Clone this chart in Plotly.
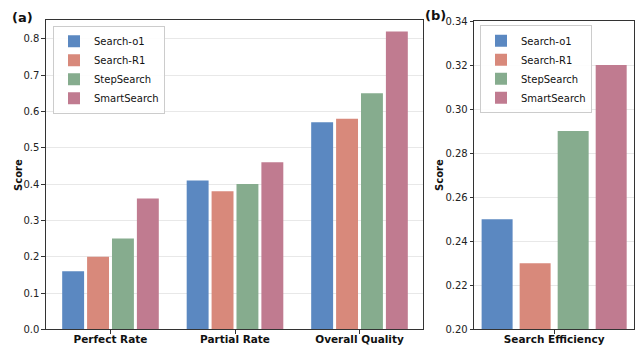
import plotly.graph_objects as go

methods = ["Search-o1", "Search-R1", "StepSearch", "SmartSearch"]
colors = ["#5b88c1", "#d8897b", "#86ac8e", "#c07b90"]

cats_a = ["Perfect Rate", "Partial Rate", "Overall Quality"]
vals_a = {
    "Search-o1": [0.16, 0.41, 0.57],
    "Search-R1": [0.20, 0.38, 0.58],
    "StepSearch": [0.25, 0.40, 0.65],
    "SmartSearch": [0.36, 0.46, 0.82],
}

cats_b = ["Search Efficiency"]
vals_b = {
    "Search-o1": [0.25],
    "Search-R1": [0.23],
    "StepSearch": [0.29],
    "SmartSearch": [0.32],
}

FONT = "DejaVu Sans"
W, H = 644, 350
fig = go.Figure()

slot = 0.2
for i, m in enumerate(methods):
    wa = 0.176
    fig.add_trace(go.Bar(
        x=cats_a, y=vals_a[m], name=m, marker=dict(color=colors[i], line=dict(width=0)),
        width=wa, offset=-0.4 + i * slot + (slot - wa) / 2,
        xaxis="x", yaxis="y", legend="legend",
    ))
for i, m in enumerate(methods):
    wb = 0.163
    fig.add_trace(go.Bar(
        x=cats_b, y=vals_b[m], name=m, marker=dict(color=colors[i], line=dict(width=0)),
        width=wb, offset=-0.4 + i * slot + (slot - wb) / 2,
        xaxis="x2", yaxis="y2", legend="legend2",
    ))

axis_common = dict(
    showline=True, mirror=True, linecolor="#333333", linewidth=1.2,
    ticks="outside", ticklen=3.5, tickcolor="#333333", tickwidth=1,
    tickfont=dict(family=FONT, size=10, color="#222222"),
    automargin=False,
)
xtickfont = dict(family=FONT, size=10.5, color="#111111", weight="bold")

legend_common = dict(
    xanchor="left", yanchor="top",
    bgcolor="rgba(255,255,255,0.9)", bordercolor="#cccccc", borderwidth=1,
    font=dict(family=FONT, size=10, color="#111111"), tracegroupgap=0, itemwidth=30,
)

fig.update_layout(
    width=W, height=H,
    margin=dict(l=0, r=0, t=0, b=0),
    paper_bgcolor="white", plot_bgcolor="white",
    barmode="overlay",
    font=dict(family=FONT, color="#222222"),
    xaxis=dict(domain=[46 / W, 423 / W], anchor="y", type="category",
               range=[-0.518, 2.51], showgrid=False, ticklabelstandoff=-4,
               **{**axis_common, "tickfont": xtickfont}),
    yaxis=dict(domain=[(H - 329.3) / H, (H - 20) / H], anchor="x",
               range=[0, 0.852], dtick=0.1, tickformat=".1f",
               showgrid=True, gridcolor="#e8e8e8", gridwidth=1, zeroline=False,
               **axis_common),
    xaxis2=dict(domain=[474.3 / W, 634 / W], anchor="y2", type="category",
                range=[-0.42, 0.42], showgrid=False, ticklabelstandoff=-4,
                **{**axis_common, "tickfont": xtickfont}),
    yaxis2=dict(domain=[(H - 329.3) / H, (H - 21) / H], anchor="x2",
                range=[0.2, 0.34], dtick=0.02, tickformat=".2f",
                showgrid=True, gridcolor="#e8e8e8", gridwidth=1, zeroline=False,
                **axis_common),
    legend=dict(x=53 / W, y=1 - 25.7 / H, **legend_common),
    legend2=dict(x=480 / W, y=1 - 25.3 / H, **legend_common),
    annotations=[
        dict(text="<b>(a)</b>", x=22 / W, y=1 - 18 / H, xref="paper", yref="paper",
             xanchor="center", yanchor="middle",
             showarrow=False, font=dict(family=FONT, size=13, color="#111111")),
        dict(text="<b>(b)</b>", x=435 / W, y=1 - 16 / H, xref="paper", yref="paper",
             xanchor="center", yanchor="middle",
             showarrow=False, font=dict(family=FONT, size=13, color="#111111")),
        dict(text="<b>Score</b>", x=18 / W, y=1 - 175 / H, xref="paper", yref="paper",
             xanchor="center", yanchor="middle", textangle=-90,
             showarrow=False, font=dict(family=FONT, size=10, color="#111111")),
        dict(text="<b>Score</b>", x=439 / W, y=1 - 175 / H, xref="paper", yref="paper",
             xanchor="center", yanchor="middle", textangle=-90,
             showarrow=False, font=dict(family=FONT, size=10, color="#111111")),
    ],
)

fig.write_html("out.html")
